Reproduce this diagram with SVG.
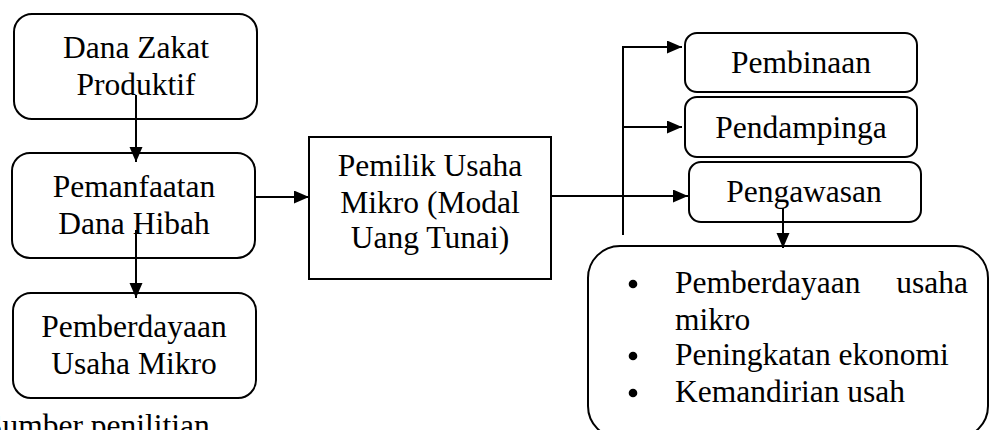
<svg xmlns="http://www.w3.org/2000/svg" width="989" height="430" viewBox="0 0 989 430">
  <style>
    .box { fill: #ffffff; stroke: #000000; stroke-width: 2; }
    .lbl { font-family: "Liberation Serif", "Times New Roman", serif; font-size: 31.5px; fill: #000000; }
    .mid { text-anchor: middle; }
    .edge { fill: none; stroke: #000000; stroke-width: 2; }
    .bullet { fill: #000000; }
  </style>
  <defs>
    <marker id="arrow" markerUnits="userSpaceOnUse" markerWidth="16" markerHeight="14" refX="15" refY="6.5" orient="auto">
      <path d="M0,0 L15,6.5 L0,13 z" fill="#000000"/>
    </marker>
  </defs>

  <rect width="989" height="430" fill="#ffffff"/>

  <g id="node-dana-zakat">
    <rect class="box" x="14" y="14" width="243" height="105" rx="18"/>
    <text class="lbl mid" x="136" y="58">Dana Zakat</text>
    <text class="lbl mid" x="136" y="95">Produktif</text>
  </g>

  <g id="node-pemanfaatan">
    <rect class="box" x="12" y="153" width="243" height="105" rx="18"/>
    <text class="lbl mid" x="134" y="197">Pemanfaatan</text>
    <text class="lbl mid" x="134" y="234">Dana Hibah</text>
  </g>

  <g id="node-pemberdayaan">
    <rect class="box" x="13" y="293" width="243" height="105" rx="18"/>
    <text class="lbl mid" x="134" y="337">Pemberdayaan</text>
    <text class="lbl mid" x="134" y="374">Usaha Mikro</text>
  </g>

  <g id="node-pemilik">
    <rect class="box" x="309" y="137" width="242" height="142"/>
    <text class="lbl mid" x="430" y="176">Pemilik Usaha</text>
    <text class="lbl mid" x="430" y="213">Mikro (Modal</text>
    <text class="lbl mid" x="430" y="248">Uang Tunai)</text>
  </g>

  <g id="node-pembinaan">
    <rect class="box" x="685" y="33" width="232" height="59" rx="12"/>
    <text class="lbl mid" x="801" y="73">Pembinaan</text>
  </g>

  <g id="node-pendampinga">
    <rect class="box" x="685" y="97" width="232" height="60" rx="12"/>
    <text class="lbl mid" x="801" y="138">Pendampinga</text>
  </g>

  <g id="node-pengawasan">
    <rect class="box" x="689" y="162" width="232" height="60" rx="12"/>
    <text class="lbl mid" x="804" y="202">Pengawasan</text>
  </g>

  <g id="node-hasil">
    <rect class="box" x="588" y="246" width="400" height="192" rx="32"/>
    <circle class="bullet" cx="633" cy="284" r="4.3"/>
    <text class="lbl" x="675" y="293">Pemberdayaan</text>
    <text class="lbl" x="968" y="293" text-anchor="end">usaha</text>
    <text class="lbl" x="675" y="330">mikro</text>
    <circle class="bullet" cx="633" cy="356" r="4.3"/>
    <text class="lbl" x="675" y="365">Peningkatan ekonomi</text>
    <circle class="bullet" cx="633" cy="393" r="4.3"/>
    <text class="lbl" x="675" y="402">Kemandirian usah</text>
  </g>

  <g id="connectors">
    <line class="edge" x1="136" y1="95" x2="136" y2="162" marker-end="url(#arrow)"/>
    <line class="edge" x1="136" y1="230" x2="136" y2="298" marker-end="url(#arrow)"/>
    <line class="edge" x1="255" y1="197" x2="309" y2="197" marker-end="url(#arrow)"/>
    <line class="edge" x1="551" y1="196" x2="688" y2="196" marker-end="url(#arrow)"/>
    <line class="edge" x1="623" y1="46" x2="623" y2="235"/>
    <line class="edge" x1="622" y1="47" x2="682" y2="47" marker-end="url(#arrow)"/>
    <line class="edge" x1="623" y1="127" x2="682" y2="127" marker-end="url(#arrow)"/>
    <line class="edge" x1="783" y1="208" x2="783" y2="248" marker-end="url(#arrow)"/>
  </g>

  <text class="lbl" x="-15" y="436">Sumber penilitian</text>
</svg>
